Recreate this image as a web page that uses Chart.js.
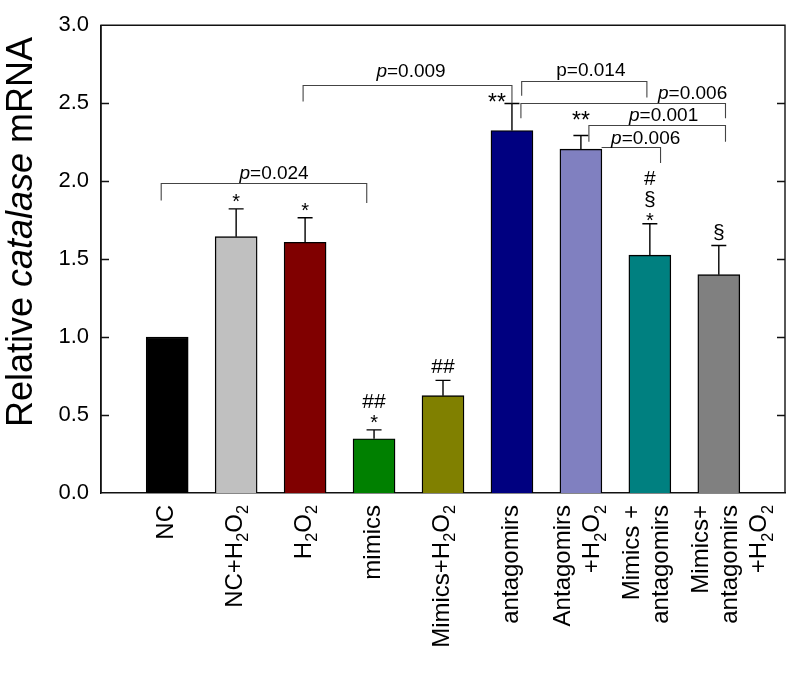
<!DOCTYPE html>
<html><head><meta charset="utf-8">
<script src="https://cdn.jsdelivr.net/npm/chart.js@4.4.0/dist/chart.umd.min.js"></script>
<style>html,body{margin:0;padding:0;background:#fff}#wrap{width:792px;height:673px}</style>
</head><body><div id="wrap"><canvas id="c" width="792" height="673"></canvas></div>
<script>
// ---- data ----
const categories = ["NC","NC+H2O2","H2O2","mimics","Mimics+H2O2","antagomirs","Antagomirs+H2O2","Mimics + antagomirs","Mimics+ antagomirs +H2O2"];
const labelLines = [["NC"],["NC+H_2O_2"],["H_2O_2"],["mimics"],["Mimics+H_2O_2"],["antagomirs"],["Antagomirs","+H_2O_2"],["Mimics +","antagomirs"],["Mimics+","antagomirs","+H_2O_2"]];
const values = [1.00, 1.644, 1.608, 0.348, 0.624, 2.325, 2.205, 1.525, 1.400];
const errors = [0.000, 0.178, 0.157, 0.057, 0.098, 0.173, 0.088, 0.202, 0.187];
const colors = ['#000000','#c0c0c0','#800000','#008000','#808000','#000080','#8080c0','#008080','#808080'];
const sigMarks = [[],["*"],["*"],["*","##"],["##"],["**"],["**"],["*","§","#"],["§"]];
const yTicks = [0,0.5,1.0,1.5,2.0,2.5,3.0];
const brackets = [
  {x1:0.913, x2:3.894, y:1.985, l1:1.876, l2:1.859, p:"p", rest:"=0.024", it:true,  lx:2.55,  gap:4},
  {x1:2.971, x2:6.000, y:2.617, l1:2.511, l2:2.498, p:"p", rest:"=0.009", it:true,  lx:4.536, gap:8},
  {x1:6.141, x2:7.957, y:2.645, l1:2.548, l2:2.536, p:"p", rest:"=0.014", it:false, lx:7.145, gap:5},
  {x1:6.130, x2:9.097, y:2.504, l1:2.404, l2:2.404, p:"p", rest:"=0.006", it:true,  lx:8.62,  gap:4},
  {x1:7.116, x2:9.097, y:2.360, l1:2.253, l2:2.253, p:"p", rest:"=0.001", it:true,  lx:8.20,  gap:4},
  {x1:7.300, x2:8.155, y:2.216, l1:null,  l2:2.117, p:"p", rest:"=0.006", it:true,  lx:7.94,  gap:3}
];
// ---- drawing helpers ----
const FAM = '"Liberation Sans", Arial, Helvetica, sans-serif';
function parseRich(str){
  const segs=[]; let buf='';
  for(let k=0;k<str.length;k++){
    if(str[k]==='_'){ if(buf) segs.push({t:buf}); buf=''; segs.push({t:str[k+1],sub:true}); k++; }
    else buf+=str[k];
  }
  if(buf) segs.push({t:buf});
  return segs;
}
function drawRich(ctx, segs, x, y, size, align){
  let w=0; const ws=[];
  segs.forEach(s=>{ const sz=s.sub?size*0.68:size; ctx.font=(s.it?'italic ':'')+sz+'px '+FAM; const m=ctx.measureText(s.t).width; ws.push(m); w+=m; });
  let cx = align==='right'? x-w : align==='center'? x-w/2 : x;
  ctx.textAlign='left'; ctx.textBaseline='alphabetic';
  segs.forEach((s,k)=>{ const sz=s.sub?size*0.68:size; ctx.font=(s.it?'italic ':'')+sz+'px '+FAM; ctx.fillText(s.t, cx, y+(s.sub?size*0.28:0)); cx+=ws[k]; });
}
const overlay = {
  id:'overlay',
  afterDraw(chart){
    const ctx=chart.ctx, xs=chart.scales.x, ys=chart.scales.y, a=chart.chartArea;
    ctx.save();
    // frame
    ctx.strokeStyle='#111'; ctx.lineWidth=1.4;
    ctx.beginPath(); ctx.moveTo(a.left,a.bottom); ctx.lineTo(a.left,a.top); ctx.lineTo(a.right,a.top); ctx.lineTo(a.right,a.bottom); ctx.stroke();
    // inward ticks
    yTicks.forEach(v=>{ const py=Math.round(ys.getPixelForValue(v))+0.5; if(v===0||v===3) return;
      ctx.beginPath(); ctx.moveTo(a.left,py); ctx.lineTo(a.left+8,py); ctx.moveTo(a.right,py); ctx.lineTo(a.right-8,py); ctx.stroke(); });
    // error bars
    ctx.strokeStyle='#000'; ctx.lineWidth=1.4;
    values.forEach((v,i)=>{ if(!errors[i]) return; const px=xs.getPixelForValue(i+1), y0=ys.getPixelForValue(v), y1=ys.getPixelForValue(v+errors[i]);
      ctx.beginPath(); ctx.moveTo(px,y0); ctx.lineTo(px,y1); ctx.moveTo(px-7.5,y1); ctx.lineTo(px+7.5,y1); ctx.stroke(); });
    // significance marks (bottom to top)
    ctx.fillStyle='#000';
    sigMarks.forEach((arr,i)=>{
      const px=xs.getPixelForValue(i+1), cap=ys.getPixelForValue(values[i]+errors[i]);
      let y = cap;
      arr.forEach((m,k)=>{
        const star = m[0]==='*';
        let size = star ? (m.length>1?23:20) : 21;
        let dx=0, base;
        if(k===0) base = cap - (star?1:7); else base = y - 21;
        if(i===5){ dx=-15; base=cap+7; }
        if(i===6){ base=cap-7; }
        if(i===7 && k===0){ base=cap+3; }
        y = base;
        ctx.font=size+'px '+FAM; ctx.textAlign='center'; ctx.textBaseline='alphabetic';
        ctx.fillText(m, px+dx, base);
      });
    });
    // brackets
    ctx.strokeStyle='#444'; ctx.lineWidth=1.1;
    brackets.forEach(b=>{
      const X1=xs.getPixelForValue(b.x1), X2=xs.getPixelForValue(b.x2), Y=Math.round(ys.getPixelForValue(b.y))+0.5;
      ctx.beginPath();
      if(b.l1!==null){ ctx.moveTo(X1, ys.getPixelForValue(b.l1)); ctx.lineTo(X1,Y); } else ctx.moveTo(X1,Y);
      ctx.lineTo(X2,Y); ctx.lineTo(X2, ys.getPixelForValue(b.l2)); ctx.stroke();
      ctx.fillStyle='#000';
      drawRich(ctx,[{t:b.p,it:b.it},{t:b.rest}], xs.getPixelForValue(b.lx), Y-b.gap-0.5, 19, 'center');
    });
    // x labels
    ctx.fillStyle='#000';
    const lh=29, fs=24;
    labelLines.forEach((lines,i)=>{
      const cx=xs.getPixelForValue(i+1), n=lines.length;
      lines.forEach((ln,j)=>{
        const capCenter = n===1 ? -3 : -19 + j*lh;
        const off = capCenter + fs*0.716/2;
        ctx.save(); ctx.translate(cx+off, a.bottom+12); ctx.rotate(-Math.PI/2);
        drawRich(ctx, parseRich(ln), 0, 0, fs, 'right');
        ctx.restore();
      });
    });
    // y title
    ctx.save(); ctx.translate(32, 232); ctx.rotate(-Math.PI/2);
    drawRich(ctx,[{t:'Relative '},{t:'catalase',it:true},{t:' mRNA'}],0,0,36,'center');
    ctx.restore();
    ctx.restore();
  }
};
new Chart(document.getElementById('c'), {
  type:'bar',
  data:{ datasets:[{ data: values.map((v,i)=>({x:i+1,y:v})), backgroundColor:colors, borderColor:'#000', borderWidth:1.4, barThickness:42 }]},
  options:{
    responsive:false, animation:false, devicePixelRatio:1,
    layout:{padding:{top:15,right:7,left:0,bottom:0}},
    plugins:{legend:{display:false}, tooltip:{enabled:false}},
    scales:{
      x:{type:'linear', offset:false, min:0.04, max:9.96, grid:{display:false, drawTicks:false, offset:false}, border:{display:true,color:'#111',width:1.4}, ticks:{display:false}, afterFit:s=>{s.height=180;}},
      y:{min:0, max:3, grid:{display:false, drawTicks:false}, border:{display:true,color:'#111',width:1.4},
         afterBuildTicks:s=>{ s.ticks = yTicks.map(v=>({value:v})); },
         ticks:{padding:12, color:'#000', font:{family:FAM,size:22}, callback:v=>Number(v).toFixed(1)},
         afterFit:s=>{s.width=101;}}
    }
  },
  plugins:[overlay]
});
</script></body></html>
